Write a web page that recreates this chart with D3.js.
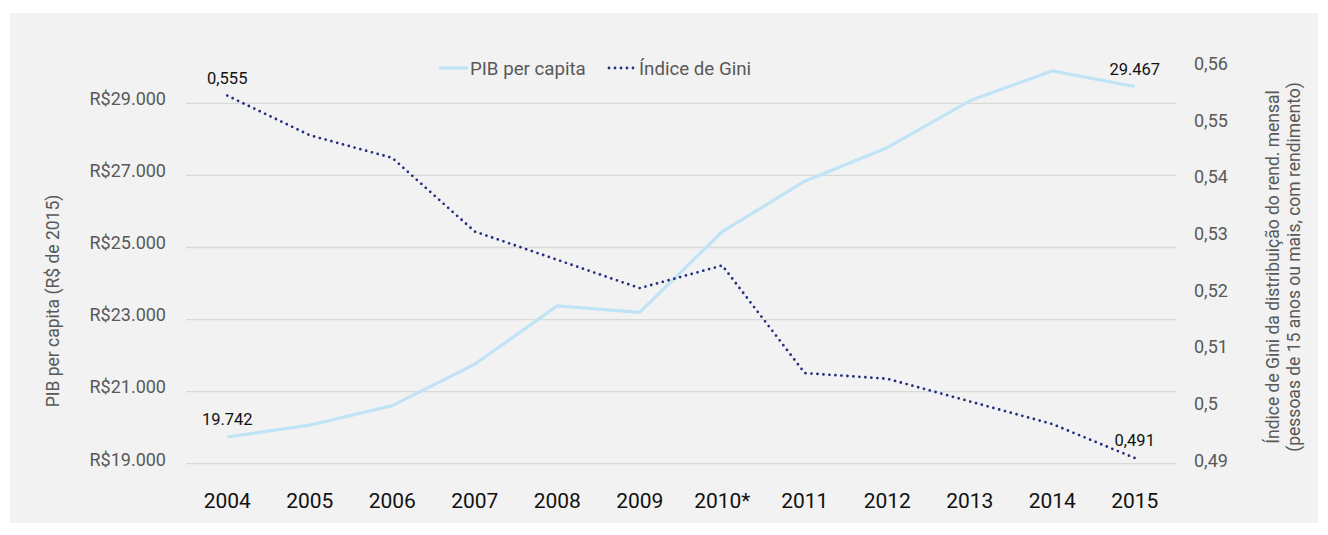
<!DOCTYPE html>
<html lang="pt-BR">
<head>
<meta charset="utf-8">
<script src="https://cdn.jsdelivr.net/npm/d3@7"></script>
<style>
  html, body { margin: 0; padding: 0; background: #ffffff; }
  svg { display: block; font-family: Roboto, "Noto Sans", sans-serif; }
</style>
</head>
<body>
<svg id="chart" width="1328" height="535"></svg>
<script>
// Anos e séries
const anos = ["2004", "2005", "2006", "2007", "2008", "2009", "2010*", "2011", "2012", "2013", "2014", "2015"];
const pibPerCapita = [19742, 20070, 20610, 21760, 23380, 23200, 25440, 26840, 27770, 29070, 29900, 29467];
const indiceGini = [0.555, 0.548, 0.544, 0.531, 0.526, 0.521, 0.525, 0.506, 0.505, 0.501, 0.497, 0.491];

// Marcas de eixo
const ticksPib = [19000, 21000, 23000, 25000, 27000, 29000];
const ticksGini = [0.49, 0.50, 0.51, 0.52, 0.53, 0.54, 0.55, 0.56];

// Rótulos de dados mostrados (primeiro e último ano)
const rotulosIdx = [0, 11];

const ptBR = d3.formatLocale({ decimal: ",", thousands: ".", grouping: [3], currency: ["R$", ""] });
const fmtMoeda = v => "R$" + ptBR.format(",.0f")(v);
const fmtMil = ptBR.format(",.0f");
const fmtGini = ptBR.format(".3~f");
const fmtGiniTick = ptBR.format(".2~f");

const svg = d3.select("#chart");

// painel de fundo
svg.append("rect").attr("x", 10).attr("y", 13).attr("width", 1308).attr("height", 510).attr("fill", "#f2f2f2");

const plot = { left: 186, right: 1176, top: 67.3, bottom: 463.7 };

const x = d3.scaleBand().domain(anos).range([plot.left, plot.right]).padding(0);
const cx = d => x(d) + x.bandwidth() / 2;
const yL = d3.scaleLinear().domain([19000, 30000]).range([plot.bottom, plot.top]);
const yR = d3.scaleLinear().domain([0.49, 0.56]).range([plot.bottom, plot.top]);

// linhas de grade (eixo da esquerda)
svg.append("g").selectAll("line").data(ticksPib).join("line")
  .attr("x1", plot.left).attr("x2", plot.right)
  .attr("y1", d => yL(d)).attr("y2", d => yL(d))
  .attr("stroke", "#d9d9d9").attr("stroke-width", 1.3);

// o eixo do D3 impõe fonte própria; devolve a fonte do documento
const limpaEixo = g => {
  g.attr("font-family", null).attr("font-size", null);
  g.select(".domain").remove();
};

// eixo esquerdo
const axL = svg.append("g").attr("transform", `translate(${plot.left - 20},0)`)
  .call(d3.axisLeft(yL).tickValues(ticksPib).tickFormat(fmtMoeda).tickSize(0).tickPadding(0))
  .call(limpaEixo);
axL.selectAll("text").attr("fill", "#595959").attr("font-size", 18).attr("dy", "0.35em")
  .attr("transform", "translate(0,-5)");

// eixo direito
const axR = svg.append("g").attr("transform", `translate(${plot.right + 18},0)`)
  .call(d3.axisRight(yR).tickValues(ticksGini).tickFormat(fmtGiniTick).tickSize(0).tickPadding(0))
  .call(limpaEixo);
axR.selectAll("text").attr("fill", "#595959").attr("font-size", 18).attr("dy", "0.35em")
  .attr("transform", "translate(0,-4)");

// eixo x
const axX = svg.append("g").attr("transform", `translate(0,${plot.bottom})`)
  .call(d3.axisBottom(x).tickSize(0).tickPadding(0))
  .call(limpaEixo);
axX.selectAll("text").attr("fill", "#111111").attr("font-size", 21).attr("dy", 0)
  .attr("y", 44);

// títulos dos eixos
svg.append("text")
  .attr("transform", "translate(59,301) rotate(-90)")
  .attr("text-anchor", "middle").attr("fill", "#595959").attr("font-size", 17.5)
  .text("PIB per capita (R$ de 2015)");

const tR = svg.append("text")
  .attr("transform", "translate(1279,267) rotate(-90)")
  .attr("text-anchor", "middle").attr("fill", "#595959").attr("font-size", 17.5);
tR.append("tspan").attr("x", 0).attr("dy", 0).text("Índice de Gini da distribuição do rend. mensal");
tR.append("tspan").attr("x", 0).attr("dy", 20.5).text("(pessoas de 15 anos ou mais, com rendimento)");

// séries
const linhaPib = d3.line().x((d, i) => cx(anos[i])).y(d => yL(d));
const linhaGini = d3.line().x((d, i) => cx(anos[i])).y(d => yR(d));

svg.append("path").datum(pibPerCapita).attr("d", linhaPib)
  .attr("fill", "none").attr("stroke", "#c0e4f6").attr("stroke-width", 3.2)
  .attr("stroke-linejoin", "round");

svg.append("path").datum(indiceGini).attr("d", linhaGini)
  .attr("fill", "none").attr("stroke", "#24307f").attr("stroke-width", 2.8)
  .attr("stroke-dasharray", "0 6").attr("stroke-linecap", "round");

// rótulos de dados
const rot = svg.append("g").attr("font-size", 16.5).attr("fill", "#111111").attr("text-anchor", "middle");
rotulosIdx.forEach(i => {
  rot.append("text").attr("x", cx(anos[i])).attr("y", yL(pibPerCapita[i]) - 12).text(fmtMil(pibPerCapita[i]));
  rot.append("text").attr("x", cx(anos[i])).attr("y", yR(indiceGini[i]) - 12).text(fmtGini(indiceGini[i]));
});

// legenda
const leg = svg.append("g").attr("font-size", 18.7).attr("fill", "#595959");
leg.append("line").attr("x1", 439).attr("x2", 468).attr("y1", 68).attr("y2", 68)
  .attr("stroke", "#c0e4f6").attr("stroke-width", 3.2);
leg.append("text").attr("x", 470).attr("y", 74.5).text("PIB per capita");
leg.append("line").attr("x1", 609).attr("x2", 636).attr("y1", 68).attr("y2", 68)
  .attr("stroke", "#24307f").attr("stroke-width", 2.8)
  .attr("stroke-dasharray", "0 6").attr("stroke-linecap", "round");
leg.append("text").attr("x", 639).attr("y", 74.5).text("Índice de Gini");
</script>
</body>
</html>
